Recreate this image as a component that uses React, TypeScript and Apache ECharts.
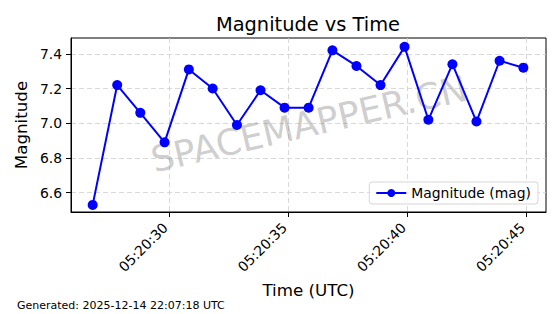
import React, { useEffect, useRef } from "react";
import * as echarts from "echarts";

const times = [
  "05:20:26.77", "05:20:27.80", "05:20:28.77", "05:20:29.79", "05:20:30.81",
  "05:20:31.81", "05:20:32.83", "05:20:33.82", "05:20:34.83", "05:20:35.84",
  "05:20:36.84", "05:20:37.85", "05:20:38.86", "05:20:39.87", "05:20:40.87",
  "05:20:41.88", "05:20:42.89", "05:20:43.86", "05:20:44.86",
];
const magnitudes = [
  6.53, 7.22, 7.06, 6.89, 7.31, 7.2, 6.99, 7.19, 7.09, 7.09,
  7.42, 7.33, 7.22, 7.44, 7.02, 7.34, 7.01, 7.36, 7.32,
];
const xTickLabels = ["05:20:30", "05:20:35", "05:20:40", "05:20:45"];
const yTicks = [6.6, 6.8, 7.0, 7.2, 7.4];
const xRange = ["05:20:25.86", "05:20:45.81"];
const yRange = [6.489, 7.491];

const FONT = "DejaVu Sans";

function toSec(t: string): number {
  const [h, m, s] = t.split(":");
  return Number(h) * 3600 + Number(m) * 60 + Number(s);
}
function fmt(v: number): string {
  const total = Math.round(v);
  const h = Math.floor(total / 3600);
  const m = Math.floor((total % 3600) / 60);
  const s = total % 60;
  const p = (n: number) => String(n).padStart(2, "0");
  return `${p(h)}:${p(m)}:${p(s)}`;
}

export default function App() {
  const ref = useRef<HTMLDivElement>(null);
  useEffect(() => {
    if (!ref.current) return;
    const chart = echarts.init(ref.current, undefined, { renderer: "svg" });
    const data = times.map((t, i) => [toSec(t), magnitudes[i]]);
    const xTicks = xTickLabels.map(toSec);
    const gridLine = { show: true, lineStyle: { color: "#cfcfcf", type: [5, 3], width: 0.8 } };
    chart.setOption({
      animation: false,
      textStyle: { fontFamily: FONT },
      grid: {
        left: 71, right: 14, top: 38, bottom: 102,
        show: true, borderColor: "#000", borderWidth: 1, backgroundColor: "transparent",
      },
      xAxis: {
        type: "value",
        min: toSec(xRange[0]),
        max: toSec(xRange[1]),
        name: "Time (UTC)",
        nameLocation: "middle",
        nameGap: 69,
        nameTextStyle: { fontSize: 16.7, color: "#000", fontFamily: FONT },
        axisLine: { show: true, lineStyle: { color: "#000", width: 1 } },
        axisTick: { show: true, length: 5, customValues: xTicks, lineStyle: { color: "#000" } },
        axisLabel: {
          customValues: xTicks,
          rotate: 45,
          margin: 9,
          padding: [0, 6, 0, 0],
          fontSize: 13.9,
          color: "#000",
          fontFamily: FONT,
          formatter: (v: number) => fmt(v),
        },
        splitLine: gridLine,
      },
      yAxis: {
        type: "value",
        min: yRange[0],
        max: yRange[1],
        name: "Magnitude",
        nameLocation: "middle",
        nameGap: 35,
        nameTextStyle: { fontSize: 16.7, color: "#000", fontFamily: FONT },
        axisLine: { show: true, lineStyle: { color: "#000", width: 1 } },
        axisTick: { show: true, length: 5, customValues: yTicks, lineStyle: { color: "#000" } },
        axisLabel: {
          customValues: yTicks,
          margin: 9,
          fontSize: 13.9,
          color: "#000",
          fontFamily: FONT,
          formatter: (v: number) => v.toFixed(1),
        },
        splitLine: gridLine,
      },
      legend: {
        right: 22,
        bottom: 110,
        orient: "vertical",
        padding: [4, 7, 4, 6],
        itemWidth: 30,
        itemHeight: 10,
        itemGap: 6,
        borderColor: "#d6d6d6",
        borderWidth: 1,
        borderRadius: 3,
        backgroundColor: "rgba(255,255,255,0.8)",
        textStyle: { fontSize: 13.9, color: "#000", fontFamily: FONT },
        data: ["Magnitude (mag)"],
      },
      graphic: [
        {
          type: "text",
          x: 308, y: 24,
          style: {
            text: "Magnitude vs Time",
            fontSize: 19.4,
            fontFamily: FONT,
            fill: "#000",
            align: "center",
            verticalAlign: "middle",
          },
        },
        {
          type: "text",
          x: 309, y: 124,
          rotation: (13 * Math.PI) / 180,
          z: 1,
          silent: true,
          style: {
            text: "SPACEMAPPER.CN",
            fontSize: 36,
            fontFamily: FONT,
            fill: "rgba(128,128,128,0.4)",
            align: "center",
            verticalAlign: "middle",
          },
        },
        {
          type: "text",
          x: 17, y: 305,
          style: {
            text: "Generated: 2025-12-14 22:07:18 UTC",
            fontSize: 11,
            fontFamily: FONT,
            fill: "#000",
            align: "left",
            verticalAlign: "middle",
          },
        },
      ],
      series: [
        {
          name: "Magnitude (mag)",
          type: "line",
          data,
          symbol: "circle",
          symbolSize: 10,
          z: 3,
          lineStyle: { color: "#0000ff", width: 2 },
          itemStyle: { color: "#0000ff" },
        },
      ],
    });
    return () => chart.dispose();
  }, []);
  return <div ref={ref} style={{ width: 560, height: 314, position: "absolute", left: 0, top: 0 }} />;
}
